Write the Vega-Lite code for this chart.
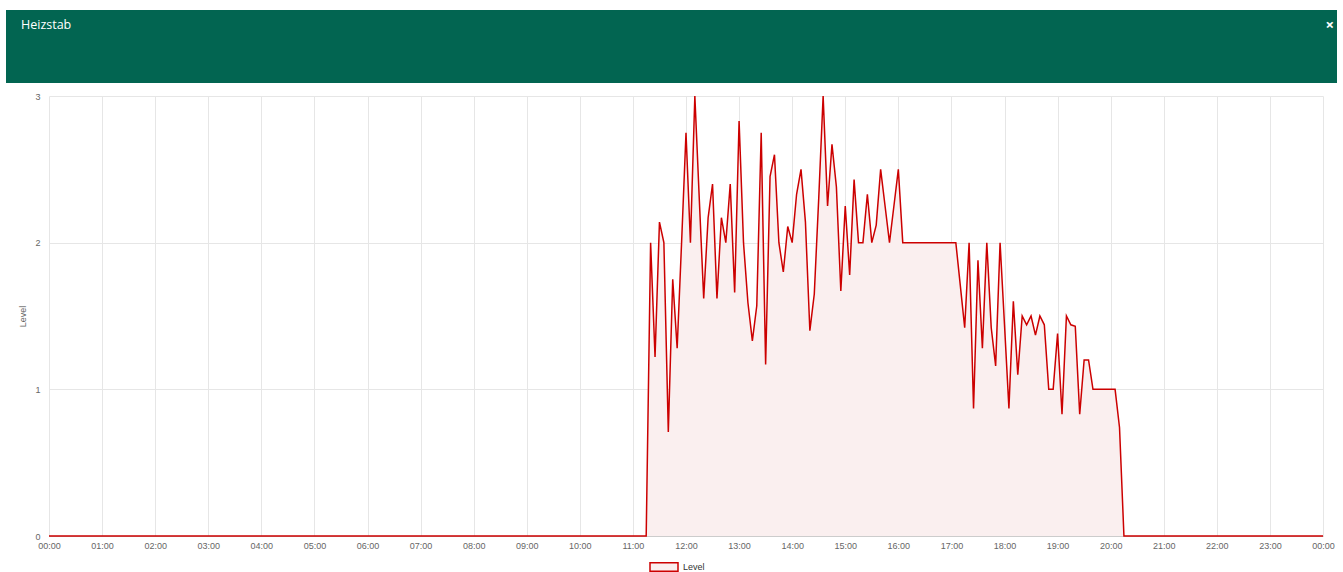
{
  "$schema": "https://vega.github.io/schema/vega-lite/v6.json",
  "padding": {"left": 5, "top": 10, "right": 5, "bottom": 0},
  "background": "white",
  "spacing": 9,
  "config": {"view": {"stroke": null}, "font": "Liberation Sans"},
  "vconcat": [
    {
      "width": 1288,
      "height": 73,
      "view": {"fill": "#026551", "stroke": null},
      "layer": [
        {
          "data": {"values": [{"pos": 0, "label": "Heizstab"}]},
          "mark": {"type": "text", "align": "left", "baseline": "middle", "dx": -28, "dy": 15, "color": "white", "fontSize": 12.5, "font": "Open Sans"},
          "encoding": {
            "x": {"field": "pos", "type": "quantitative", "scale": {"domain": [0, 1], "nice": false, "zero": false}, "axis": null},
            "y": {
              "datum": 1,
              "type": "quantitative",
              "scale": {"domain": [0, 1], "nice": false, "zero": false},
              "axis": {"domainColor": "#026551", "domainWidth": 86, "domainCap": "butt", "translate": 0, "ticks": false, "labels": false, "grid": false, "title": null}
            },
            "text": {"field": "label"}
          }
        },
        {
          "data": {"values": [{"pos": 1, "label": "×"}]},
          "mark": {"type": "text", "align": "right", "baseline": "middle", "dx": -3, "dy": 15, "color": "white", "fontSize": 15, "fontWeight": "bold", "font": "Open Sans"},
          "encoding": {
            "x": {"field": "pos", "type": "quantitative", "scale": {"domain": [0, 1], "nice": false, "zero": false}, "axis": null},
            "y": {"datum": 1, "type": "quantitative"},
            "text": {"field": "label"}
          }
        }
      ]
    },
    {
      "width": 1274,
      "height": 440,
      "data": {
        "values": [
          {"h": 0, "v": 0},
          {"h": 11.25, "v": 0},
          {"h": 11.3333, "v": 2.0},
          {"h": 11.4167, "v": 1.22},
          {"h": 11.5, "v": 2.14},
          {"h": 11.5833, "v": 2.0},
          {"h": 11.6667, "v": 0.71},
          {"h": 11.75, "v": 1.75},
          {"h": 11.8333, "v": 1.28},
          {"h": 11.9167, "v": 2.0},
          {"h": 12.0, "v": 2.75},
          {"h": 12.0833, "v": 2.0},
          {"h": 12.1667, "v": 3.0},
          {"h": 12.25, "v": 2.3},
          {"h": 12.3333, "v": 1.62},
          {"h": 12.4167, "v": 2.17},
          {"h": 12.5, "v": 2.4},
          {"h": 12.5833, "v": 1.62},
          {"h": 12.6667, "v": 2.17},
          {"h": 12.75, "v": 2.0},
          {"h": 12.8333, "v": 2.4},
          {"h": 12.9167, "v": 1.66},
          {"h": 13.0, "v": 2.83},
          {"h": 13.0833, "v": 2.0},
          {"h": 13.1667, "v": 1.59},
          {"h": 13.25, "v": 1.33},
          {"h": 13.3333, "v": 1.57},
          {"h": 13.4167, "v": 2.75},
          {"h": 13.5, "v": 1.17},
          {"h": 13.5833, "v": 2.45},
          {"h": 13.6667, "v": 2.6},
          {"h": 13.75, "v": 2.0},
          {"h": 13.8333, "v": 1.8},
          {"h": 13.9167, "v": 2.11},
          {"h": 14.0, "v": 2.0},
          {"h": 14.0833, "v": 2.33},
          {"h": 14.1667, "v": 2.5},
          {"h": 14.25, "v": 2.14},
          {"h": 14.3333, "v": 1.4},
          {"h": 14.4167, "v": 1.65},
          {"h": 14.5, "v": 2.3},
          {"h": 14.5833, "v": 3.0},
          {"h": 14.6667, "v": 2.25},
          {"h": 14.75, "v": 2.67},
          {"h": 14.8333, "v": 2.38},
          {"h": 14.9167, "v": 1.67},
          {"h": 15.0, "v": 2.25},
          {"h": 15.0833, "v": 1.78},
          {"h": 15.1667, "v": 2.43},
          {"h": 15.25, "v": 2.0},
          {"h": 15.3333, "v": 2.0},
          {"h": 15.4167, "v": 2.33},
          {"h": 15.5, "v": 2.0},
          {"h": 15.5833, "v": 2.12},
          {"h": 15.6667, "v": 2.5},
          {"h": 15.75, "v": 2.25},
          {"h": 15.8333, "v": 2.0},
          {"h": 15.9167, "v": 2.25},
          {"h": 16.0, "v": 2.5},
          {"h": 16.0833, "v": 2.0},
          {"h": 16.5, "v": 2.0},
          {"h": 17.0, "v": 2.0},
          {"h": 17.0833, "v": 2.0},
          {"h": 17.1667, "v": 1.71},
          {"h": 17.25, "v": 1.42},
          {"h": 17.3333, "v": 2.0},
          {"h": 17.4167, "v": 0.87},
          {"h": 17.5, "v": 1.88},
          {"h": 17.5833, "v": 1.28},
          {"h": 17.6667, "v": 2.0},
          {"h": 17.75, "v": 1.42},
          {"h": 17.8333, "v": 1.16},
          {"h": 17.9167, "v": 2.0},
          {"h": 18.0, "v": 1.44},
          {"h": 18.0833, "v": 0.87},
          {"h": 18.1667, "v": 1.6},
          {"h": 18.25, "v": 1.1},
          {"h": 18.3333, "v": 1.5},
          {"h": 18.4167, "v": 1.44},
          {"h": 18.5, "v": 1.5},
          {"h": 18.5833, "v": 1.37},
          {"h": 18.6667, "v": 1.5},
          {"h": 18.75, "v": 1.44},
          {"h": 18.8333, "v": 1.0},
          {"h": 18.9167, "v": 1.0},
          {"h": 19.0, "v": 1.38},
          {"h": 19.0833, "v": 0.83},
          {"h": 19.1667, "v": 1.5},
          {"h": 19.25, "v": 1.44},
          {"h": 19.3333, "v": 1.43},
          {"h": 19.4167, "v": 0.83},
          {"h": 19.5, "v": 1.2},
          {"h": 19.5833, "v": 1.2},
          {"h": 19.6667, "v": 1.0},
          {"h": 20.0, "v": 1.0},
          {"h": 20.0833, "v": 1.0},
          {"h": 20.1667, "v": 0.74},
          {"h": 20.25, "v": 0},
          {"h": 24, "v": 0}
        ]
      },
      "encoding": {
        "x": {
          "field": "h",
          "type": "quantitative",
          "scale": {"domain": [0, 24], "nice": false, "zero": false},
          "axis": {
            "title": null,
            "values": [0, 1, 2, 3, 4, 5, 6, 7, 8, 9, 10, 11, 12, 13, 14, 15, 16, 17, 18, 19, 20, 21, 22, 23, 24],
            "labelExpr": "((datum.value % 24) < 10 ? '0' : '') + (datum.value % 24) + ':00'",
            "labelFlush": false,
            "labelOverlap": false,
            "ticks": false,
            "labelPadding": 5,
            "labelFontSize": 9,
            "labelColor": "#666",
            "domainColor": "#cccccc",
            "gridColor": "#e6e6e6"
          }
        },
        "y": {
          "field": "v",
          "type": "quantitative",
          "scale": {"domain": [0, 3], "nice": false},
          "axis": {
            "title": "Level",
            "values": [0, 1, 2, 3],
            "format": "d",
            "titleX": -22,
            "titleFontSize": 9,
            "titleFontWeight": "normal",
            "titleColor": "#666",
            "labelFontSize": 9,
            "labelColor": "#666",
            "tickSize": 43,
            "tickColor": "transparent",
            "labelPadding": -34,
            "domain": false,
            "gridColor": "#e6e6e6"
          }
        }
      },
      "layer": [
        {
          "mark": {"type": "area", "opacity": 1, "fillOpacity": 1},
          "encoding": {
            "fill": {
              "datum": "Level",
              "type": "nominal",
              "scale": {"range": ["#FAEFEF"]},
              "legend": {
                "orient": "none",
                "legendX": 600,
                "legendY": 542,
                "padding": 0,
                "title": null,
                "symbolType": "M-1,-0.3H1V0.3H-1Z",
                "symbolSize": 784,
                "symbolStrokeColor": "#CC0000",
                "symbolStrokeWidth": 1.5,
                "labelFontSize": 9,
                "labelColor": "#333"
              }
            }
          }
        },
        {
          "mark": {"type": "line", "color": "#CC0000", "strokeWidth": 1.5, "interpolate": "linear"},
          "encoding": {}
        }
      ]
    }
  ]
}
